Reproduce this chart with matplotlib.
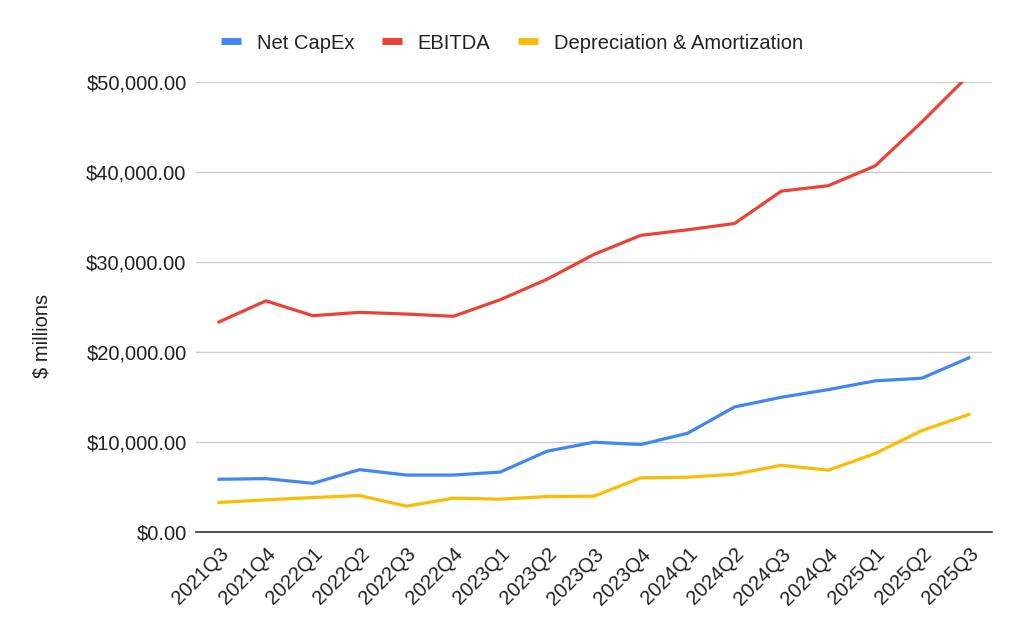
import matplotlib
matplotlib.use("Agg")
import matplotlib.pyplot as plt
from matplotlib.ticker import FuncFormatter

quarters = ["2021Q3", "2021Q4", "2022Q1", "2022Q2", "2022Q3", "2022Q4",
            "2023Q1", "2023Q2", "2023Q3", "2023Q4", "2024Q1", "2024Q2",
            "2024Q3", "2024Q4", "2025Q1", "2025Q2", "2025Q3"]
net_capex = [5860, 5930, 5410, 6930, 6330, 6330, 6660, 8980, 9980, 9720,
             10980, 13900, 14980, 15830, 16800, 17100, 19360]
ebitda = [23350, 25700, 24050, 24420, 24230, 23980, 25820, 28100, 30860,
          32980, 33600, 34300, 37900, 38500, 40700, 45600, 50800]
dep_amort = [3280, 3570, 3830, 4050, 2870, 3760, 3650, 3940, 3980, 6020,
             6090, 6420, 7420, 6870, 8720, 11280, 13060]
yticks = [0, 10000, 20000, 30000, 40000, 50000]

plt.rcParams['font.family'] = ['Liberation Sans', 'DejaVu Sans']
FS = 14.5
TXT = "#222222"

fig = plt.figure(figsize=(10.24, 6.33), dpi=100)
ax = fig.add_axes([0.191, 0.1596, 0.778, 0.7104])

x = list(range(len(quarters)))
lw = 2.3
ax.plot(x, net_capex, color="#4285F4", lw=lw, label="Net CapEx", solid_joinstyle="round")
ax.plot(x, ebitda, color="#EA4335", lw=lw, label="EBITDA", solid_joinstyle="round")
ax.plot(x, dep_amort, color="#FBBC04", lw=lw, label="Depreciation & Amortization", solid_joinstyle="round")

ax.set_xlim(-0.5, len(quarters) - 0.5)
ax.set_ylim(0, 50000)
ax.set_yticks(yticks)
ax.yaxis.set_major_formatter(FuncFormatter(lambda v, p: f"${v:,.2f}"))
ax.set_xticks(x)
ax.set_xticklabels(quarters, rotation=45, ha="right", rotation_mode="anchor")

ax.grid(axis="y", color="#cccccc", lw=1)
ax.set_axisbelow(True)
for s in ["top", "right", "left"]:
    ax.spines[s].set_visible(False)
ax.spines["bottom"].set_color("#333333")
ax.spines["bottom"].set_linewidth(1.2)
ax.tick_params(axis="both", length=0, labelsize=FS, colors=TXT)
ax.tick_params(axis="y", pad=6.5)
ax.tick_params(axis="x", pad=9)

fig.text(42 / 1024, 1 - 336 / 633, "$ millions", rotation=90, ha="center", va="center",
         fontsize=FS, color=TXT)

leg = fig.legend(loc="center", bbox_to_anchor=(0.5, 0.932), ncol=3, frameon=False,
                 fontsize=FS, handlelength=1.0, handletextpad=0.75, columnspacing=1.4)
for h in leg.get_lines():
    h.set_linewidth(5)
    h.set_solid_capstyle("butt")
for t in leg.get_texts():
    t.set_color(TXT)

fig.savefig("out.png", dpi=100, facecolor="white")
